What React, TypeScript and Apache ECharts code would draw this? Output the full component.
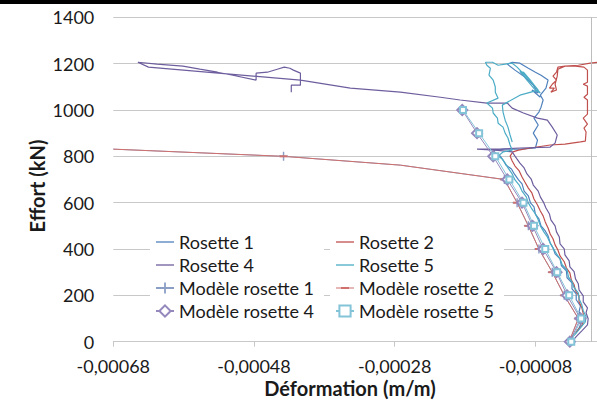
import React, { useEffect, useRef } from "react";
import * as echarts from "echarts";

const FONT = "Lato, 'Open Sans', 'Noto Sans', sans-serif";

// x: strain (m/m), y: load (kN)
const xTickValues = [-0.00068, -0.00048, -0.00028, -0.00008];
const yTicks = { min: 0, max: 1400, interval: 200 };

const rosette1: [number, number][] = [
  [-31e-6, 0], [-28e-6, 17], [-19e-6, 52], [-14e-6, 86], [-14e-6, 108], [-18e-6, 129], [-16e-6, 155],
  [-22e-6, 181], [-22e-6, 207], [-28e-6, 228], [-28e-6, 254], [-35e-6, 276], [-36e-6, 306], [-43e-6, 327],
  [-45e-6, 358], [-52e-6, 379], [-55e-6, 405], [-59e-6, 426], [-62e-6, 457], [-66e-6, 478], [-72e-6, 500],
  [-75e-6, 530], [-80e-6, 551], [-82e-6, 582], [-87e-6, 599], [-90e-6, 629], [-96e-6, 650], [-99e-6, 681],
  [-104e-6, 698], [-110e-6, 724], [-114e-6, 745], [-122e-6, 763], [-126e-6, 784], [-130e-6, 801],
  [-137e-6, 814], [-140e-6, 827], [-123e-6, 831], [-102e-6, 831], [-80e-6, 836], [-77e-6, 870],
  [-83e-6, 900], [-76e-6, 935], [-82e-6, 965], [-75e-6, 991], [-72e-6, 1012], [-69e-6, 1043],
  [-73e-6, 1064], [-65e-6, 1094], [-62e-6, 1129], [-72e-6, 1150], [-80e-6, 1163], [-90e-6, 1180],
  [-102e-6, 1202], [-113e-6, 1206], [-120e-6, 1198], [-109e-6, 1172], [-95e-6, 1142], [-83e-6, 1107],
  [-76e-6, 1073], [-85e-6, 1086], [-73e-6, 1055],
];

const rosette2: [number, number][] = [
  [-33e-6, 0], [-29e-6, 17], [-22e-6, 43], [-14e-6, 69], [-11e-6, 95], [-12e-6, 121], [-14e-6, 146],
  [-18e-6, 172], [-18e-6, 198], [-23e-6, 220], [-25e-6, 246], [-29e-6, 267], [-31e-6, 297], [-36e-6, 319],
  [-39e-6, 345], [-45e-6, 370], [-48e-6, 396], [-52e-6, 418], [-55e-6, 444], [-59e-6, 465], [-62e-6, 491],
  [-66e-6, 517], [-69e-6, 543], [-73e-6, 564], [-77e-6, 590], [-82e-6, 616], [-85e-6, 642], [-90e-6, 663],
  [-95e-6, 689], [-99e-6, 711], [-103e-6, 737], [-109e-6, 758], [-113e-6, 780], [-116e-6, 801],
  [-112e-6, 819], [-104e-6, 827], [-87e-6, 836], [-59e-6, 849], [-38e-6, 853], [-16e-6, 862],
  [-9e-6, 866], [-8e-6, 905], [-11e-6, 922], [-6e-6, 939], [-12e-6, 965], [-6e-6, 982], [-6e-6, 1043],
  [-11e-6, 1055], [-6e-6, 1068], [-6e-6, 1103], [-12e-6, 1111], [-6e-6, 1120], [-6e-6, 1172],
  [-11e-6, 1185], [-23e-6, 1189], [-38e-6, 1189], [-48e-6, 1185], [-50e-6, 1163], [-55e-6, 1146],
  [-50e-6, 1129], [-56e-6, 1111], [-60e-6, 1094], [-53e-6, 1094], [-58e-6, 1077], [-50e-6, 1086],
  [-52e-6, 1111], [-49e-6, 1146], [-48e-6, 1176], [-38e-6, 1189], [-19e-6, 1193], [-2e-6, 1202],
  [8e-6, 1206], [29e-6, 1211],
];

const rosette4: [number, number][] = [
  [-28e-6, 0], [-22e-6, 22], [-14e-6, 47], [-6e-6, 73], [-5e-6, 99], [-8e-6, 125], [-6e-6, 146],
  [-12e-6, 172], [-12e-6, 198], [-18e-6, 224], [-19e-6, 250], [-23e-6, 271], [-25e-6, 302], [-31e-6, 323],
  [-32e-6, 349], [-38e-6, 375], [-39e-6, 401], [-45e-6, 422], [-46e-6, 452], [-50e-6, 474], [-52e-6, 500],
  [-58e-6, 526], [-60e-6, 551], [-65e-6, 577], [-68e-6, 599], [-73e-6, 625], [-76e-6, 650], [-83e-6, 676],
  [-86e-6, 702], [-92e-6, 724], [-96e-6, 750], [-102e-6, 771], [-106e-6, 788], [-109e-6, 801],
  [-113e-6, 819], [-137e-6, 827], [-163e-6, 831], [-130e-6, 831], [-102e-6, 836], [-59e-6, 840],
  [-52e-6, 857], [-49e-6, 892], [-56e-6, 926], [-63e-6, 956], [-77e-6, 965], [-97e-6, 987],
  [-113e-6, 1008], [-120e-6, 1030], [-149e-6, 1030], [-187e-6, 1043], [-215e-6, 1055], [-272e-6, 1077],
  [-343e-6, 1094], [-414e-6, 1129], [-630e-6, 1185], [-645e-6, 1206], [-618e-6, 1198], [-581e-6, 1189],
  [-557e-6, 1176], [-532e-6, 1163], [-510e-6, 1150], [-477e-6, 1129], [-477e-6, 1159], [-461e-6, 1163],
  [-447e-6, 1176], [-437e-6, 1185], [-429e-6, 1180], [-424e-6, 1172], [-414e-6, 1159], [-414e-6, 1107],
  [-427e-6, 1107], [-427e-6, 1077],
];

const rosette5: [number, number][] = [
  [-35e-6, 0], [-31e-6, 13], [-23e-6, 34], [-16e-6, 60], [-9e-6, 86], [-8e-6, 108], [-12e-6, 134],
  [-14e-6, 159], [-18e-6, 185], [-19e-6, 211], [-25e-6, 233], [-28e-6, 258], [-33e-6, 280], [-35e-6, 310],
  [-42e-6, 332], [-45e-6, 358], [-50e-6, 379], [-55e-6, 405], [-59e-6, 426], [-63e-6, 452], [-68e-6, 474],
  [-73e-6, 500], [-76e-6, 526], [-80e-6, 551], [-85e-6, 573], [-90e-6, 599], [-93e-6, 625], [-99e-6, 650],
  [-103e-6, 676], [-109e-6, 698], [-113e-6, 724], [-119e-6, 750], [-123e-6, 771], [-127e-6, 788],
  [-133e-6, 801], [-126e-6, 819], [-113e-6, 827], [-116e-6, 849], [-119e-6, 879], [-123e-6, 900],
  [-126e-6, 926], [-133e-6, 943], [-134e-6, 965], [-140e-6, 987], [-141e-6, 1008], [-149e-6, 1030],
  [-133e-6, 1051], [-137e-6, 1077], [-137e-6, 1099], [-140e-6, 1129], [-146e-6, 1150], [-144e-6, 1180],
  [-149e-6, 1193], [-151e-6, 1206], [-141e-6, 1206], [-133e-6, 1193], [-123e-6, 1198], [-113e-6, 1202],
  [-106e-6, 1185], [-95e-6, 1150], [-83e-6, 1111], [-73e-6, 1073], [-80e-6, 1086], [-92e-6, 1129],
  [-102e-6, 1167], [-97e-6, 1163], [-86e-6, 1124], [-76e-6, 1086], [-102e-6, 1064], [-127e-6, 1021],
  [-126e-6, 991], [-123e-6, 956], [-119e-6, 926], [-116e-6, 892], [-113e-6, 862],
];

// Model curves: loads in kN with strains
const modelLoads = [0, 100, 200, 300, 400, 500, 600, 700, 800, 900, 1000];
const model4Strain = [-31e-6, -16e-6, -35e-6, -50e-6, -69e-6, -84e-6, -99e-6, -120e-6, -140e-6, -163e-6, -184e-6];
const model5Strain = [-29e-6, -15e-6, -32e-6, -49e-6, -66e-6, -82e-6, -97e-6, -117e-6, -137e-6, -160e-6, -183e-6];
const model12Loads = [0, 100, 200, 300, 400, 500, 600, 700, 762, 800, 831];
const model1Strain = [-32e-6, -19e-6, -39e-6, -56e-6, -75e-6, -90e-6, -106e-6, -124e-6, -272e-6, -438e-6, -680e-6];
const model2Strain = [-32e-6, -19e-6, -39e-6, -56e-6, -75e-6, -90e-6, -106e-6, -124e-6, -272e-6, -438e-6, -680e-6];
const model12Hidden = [762, 831];

const C = {
  r1: "#4F81BD",
  r2: "#C0504D",
  r4: "#6E5E9E",
  r5: "#4BACC6",
  m1: "#8A9EC6",
  m2: "#D0706C",
  m4: "#9488BC",
  m5: "#84C4D8",
  grid: "#C8C8C8",
  text: "#1a1a1a",
};

const PLUS = "path://M0,4.2H10V5.8H0Z M4.2,0H5.8V10H4.2Z";
const DASH = "path://M0,0H10V2H0Z";
const LINE_ICON = "path://M0,0H36V2.6H0Z";
const DASH_ICON = "path://M0,6.4H18V7.6H0Z M5,6H13V8H5Z";

const CHART_W = 680; // plot area continues past the cropped right edge
const VIEW_W = 597;
const VIEW_H = 409;

function modelData(loads: number[], strains: number[], hidden: number[] = []) {
  return loads.map((f, i) =>
    hidden.includes(f) ? { value: [strains[i], f], symbol: "none" } : { value: [strains[i], f] }
  );
}

export default function App() {
  const ref = useRef<HTMLDivElement>(null);
  useEffect(() => {
    if (!ref.current) return;
    const chart = echarts.init(ref.current, undefined, { renderer: "svg" });
    const rosette = (name: string, data: [number, number][], color: string, extra: any = {}) => ({
      type: "line",
      name,
      data,
      symbol: "none",
      lineStyle: { color, width: 1.2 },
      itemStyle: { color },
      emphasis: { disabled: true },
      z: 2,
      ...extra,
    });
    const model = (name: string, data: any[], color: string, symbol: string, symbolSize: any, empty: boolean) => ({
      type: "line",
      name,
      data,
      symbol,
      symbolSize,
      showSymbol: true,
      lineStyle: { color, width: 1 },
      itemStyle: empty ? { color, borderColor: color, borderWidth: 1.2 } : { color, borderWidth: 0 },
      emphasis: { disabled: true },
      z: 3,
    });
    const legendText = { fontSize: 18, fontFamily: FONT, color: C.text };
    chart.setOption({
      animation: false,
      backgroundColor: "#fff",
      grid: { left: 113.3, right: CHART_W - 676.1, top: 17.3, bottom: 67.3 },
      xAxis: {
        type: "value",
        min: -0.00068,
        max: 0.00012,
        splitLine: { show: false },
        axisLine: { show: true, lineStyle: { color: C.grid, width: 1 } },
        axisTick: { show: true, length: 5, lineStyle: { color: C.grid }, customValues: xTickValues },
        axisLabel: {
          customValues: xTickValues,
          margin: 15,
          fontSize: 18,
          fontFamily: FONT,
          color: C.text,
          formatter: (v: number) => v.toFixed(5).replace(".", ","),
        },
      },
      yAxis: {
        type: "value",
        min: yTicks.min,
        max: yTicks.max,
        interval: yTicks.interval,
        axisLine: { show: false },
        axisTick: { show: false },
        splitLine: { show: true, lineStyle: { color: C.grid, width: 1 } },
        axisLabel: {
          margin: 19,
          fontSize: 18,
          fontFamily: FONT,
          color: C.text,
          formatter: (v: number) => String(v),
        },
      },
      legend: [
        {
          orient: "vertical",
          left: 150,
          top: 228,
          itemWidth: 18,
          itemHeight: 14,
          itemGap: 5,
          padding: [5, 10, 5, 5],
          backgroundColor: "#fff",
          selectedMode: false,
          textStyle: legendText,
          data: [
            { name: "Rosette 1", icon: LINE_ICON },
            { name: "Rosette 4", icon: LINE_ICON },
            { name: "Modèle rosette 1" },
            { name: "Modèle rosette 4" },
          ],
        },
        {
          orient: "vertical",
          left: 330,
          top: 228,
          itemWidth: 18,
          itemHeight: 14,
          itemGap: 5,
          padding: [5, 10, 5, 5],
          backgroundColor: "#fff",
          selectedMode: false,
          textStyle: legendText,
          data: [
            { name: "Rosette 2", icon: LINE_ICON },
            { name: "Rosette 5", icon: LINE_ICON },
            { name: "Modèle rosette 2", icon: DASH_ICON },
            { name: "Modèle rosette 5" },
          ],
        },
      ],
      series: [
        rosette("Rosette 1", rosette1, C.r1, {
          markLine: {
            silent: true,
            symbol: "none",
            label: { show: false },
            lineStyle: { color: "#BDBDBD", type: "solid", width: 1 },
            data: [{ xAxis: 0 }],
          },
        }),
        rosette("Rosette 2", rosette2, C.r2),
        rosette("Rosette 4", rosette4, C.r4),
        rosette("Rosette 5", rosette5, C.r5),
        model("Modèle rosette 1", modelData(model12Loads, model1Strain, model12Hidden), C.m1, PLUS, 9, false),
        model("Modèle rosette 2", modelData(model12Loads, model2Strain, model12Hidden), C.m2, DASH, [8, 2], false),
        model("Modèle rosette 4", modelData(modelLoads, model4Strain), C.m4, "emptyDiamond", 10, true),
        model("Modèle rosette 5", modelData(modelLoads, model5Strain), C.m5, "emptyRect", 6, true),
      ],
      graphic: [
        { type: "rect", x: 0, y: 0, shape: { x: 0, y: 0, width: CHART_W, height: 4 }, style: { fill: "#000" }, silent: true },
        {
          type: "text",
          x: 350,
          y: 388,
          silent: true,
          style: {
            text: "Déformation (m/m)",
            fontSize: 20,
            fontWeight: "bold",
            fontFamily: FONT,
            fill: C.text,
            align: "center",
            verticalAlign: "middle",
          },
        },
        {
          type: "text",
          x: 37,
          y: 186,
          rotation: Math.PI / 2,
          silent: true,
          style: {
            text: "Effort (kN)",
            fontSize: 20,
            fontWeight: "bold",
            fontFamily: FONT,
            fill: C.text,
            align: "center",
            verticalAlign: "middle",
          },
        },
      ],
    });
    return () => chart.dispose();
  }, []);
  return (
    <div
      style={{
        position: "fixed",
        left: 0,
        top: 0,
        width: VIEW_W,
        height: VIEW_H,
        overflow: "hidden",
        background: "#fff",
      }}
    >
      <div ref={ref} style={{ width: CHART_W, height: VIEW_H }} />
    </div>
  );
}
